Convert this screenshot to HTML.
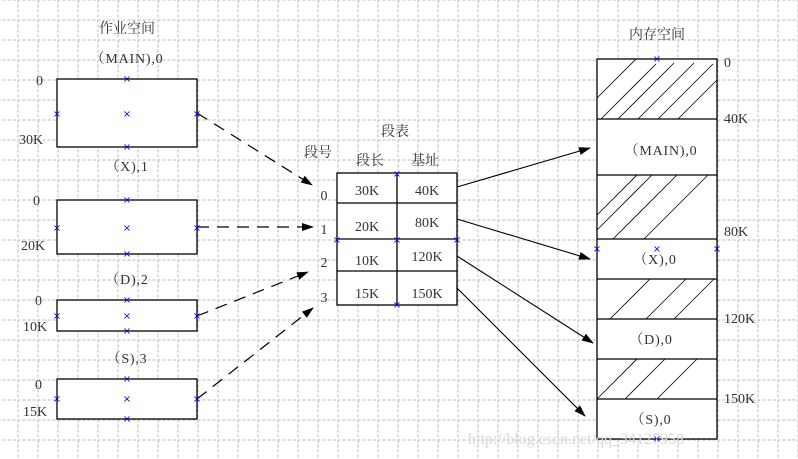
<!DOCTYPE html>
<html><head><meta charset="utf-8"><style>
html,body{margin:0;padding:0;background:#fff;}
svg{display:block;}
text{font-family:"Liberation Serif","Noto Serif CJK SC",serif;font-size:14px;fill:#333;}
.m{font-family:"DejaVu Sans",sans-serif;font-size:10px;fill:#00f;}
</style></head><body>
<svg width="798" height="459" xmlns="http://www.w3.org/2000/svg">
<defs>
<pattern id="g" x="17.5" y="19.5" width="20" height="20" patternUnits="userSpaceOnUse">
<path d="M0 0.5H20M0.5 0V20" stroke="#b8b8b8" stroke-width="1" stroke-dasharray="3,2" fill="none"/>
</pattern>
<marker id="a" markerWidth="12" markerHeight="8" refX="11" refY="4" orient="auto" markerUnits="userSpaceOnUse">
<path d="M0 0L12 4L0 8z" fill="#000"/>
</marker>
</defs>
<rect width="798" height="459" fill="url(#g)"/>

<g fill="#fff" stroke="#000" stroke-width="1.3">
<rect x="57" y="79" width="140" height="68"/>
<rect x="57" y="200" width="140" height="54"/>
<rect x="57" y="300" width="140" height="31"/>
<rect x="57" y="379" width="140" height="40"/>
<rect x="337" y="173" width="120" height="132"/>
<rect x="597" y="59" width="120" height="380"/>
</g>
<g stroke="#000" stroke-width="1.3">
<line x1="397" y1="173" x2="397" y2="305"/>
<line x1="337" y1="203" x2="457" y2="203"/>
<line x1="337" y1="239" x2="457" y2="239"/>
<line x1="337" y1="271" x2="457" y2="271"/>
<line x1="597" y1="119" x2="717" y2="119"/>
<line x1="597" y1="175" x2="717" y2="175"/>
<line x1="597" y1="239" x2="717" y2="239"/>
<line x1="597" y1="279" x2="717" y2="279"/>
<line x1="597" y1="319" x2="717" y2="319"/>
<line x1="597" y1="359" x2="717" y2="359"/>
<line x1="597" y1="399" x2="717" y2="399"/>
</g>
<g stroke="#000" stroke-width="0.8">
<line x1="597" y1="98" x2="636" y2="59"/>
<line x1="601" y1="119" x2="656" y2="64"/>
<line x1="618" y1="119" x2="674" y2="63"/>
<line x1="638" y1="119" x2="694" y2="63"/>
<line x1="658" y1="119" x2="713" y2="64"/>
<line x1="678" y1="119" x2="717" y2="80"/>
<line x1="597" y1="215" x2="637" y2="175"/>
<line x1="597" y1="230" x2="652" y2="175"/>
<line x1="613" y1="239" x2="677" y2="175"/>
<line x1="644" y1="239" x2="708" y2="175"/>
<line x1="610" y1="319" x2="650" y2="279"/>
<line x1="646" y1="319" x2="686" y2="279"/>
<line x1="674" y1="319" x2="714" y2="279"/>
<line x1="597" y1="399" x2="637" y2="359"/>
<line x1="625" y1="399" x2="665" y2="359"/>
<line x1="657" y1="399" x2="697" y2="359"/>
</g>
<g stroke="#000" stroke-width="1.2" stroke-dasharray="12,8" fill="none">
<line x1="197" y1="113" x2="312" y2="185" marker-end="url(#a)"/>
<line x1="197" y1="227" x2="313" y2="227" marker-end="url(#a)"/>
<line x1="197" y1="316" x2="308" y2="272" marker-end="url(#a)"/>
<line x1="197" y1="399" x2="313" y2="308" marker-end="url(#a)"/>
</g>
<g stroke="#000" stroke-width="1.1" fill="none">
<line x1="457" y1="187" x2="590" y2="148" marker-end="url(#a)"/>
<line x1="457" y1="219" x2="590" y2="259" marker-end="url(#a)"/>
<line x1="457" y1="256" x2="593" y2="343" marker-end="url(#a)"/>
<line x1="457" y1="288" x2="585" y2="416" marker-end="url(#a)"/>
</g>
<g text-anchor="middle">
<text class="m" x="127" y="82">×</text>
<text class="m" x="127" y="117">×</text>
<text class="m" x="127" y="150">×</text>
<text class="m" x="57" y="117">×</text>
<text class="m" x="197" y="117">×</text>
<text class="m" x="127" y="203">×</text>
<text class="m" x="127" y="257">×</text>
<text class="m" x="57" y="231">×</text>
<text class="m" x="127" y="231">×</text>
<text class="m" x="197" y="231">×</text>
<text class="m" x="127" y="303">×</text>
<text class="m" x="127" y="334">×</text>
<text class="m" x="57" y="319">×</text>
<text class="m" x="127" y="319">×</text>
<text class="m" x="197" y="319">×</text>
<text class="m" x="57" y="402">×</text>
<text class="m" x="127" y="402">×</text>
<text class="m" x="197" y="402">×</text>
<text class="m" x="127" y="382">×</text>
<text class="m" x="127" y="422">×</text>
<text class="m" x="337" y="243">×</text>
<text class="m" x="397" y="243">×</text>
<text class="m" x="457" y="243">×</text>
<text class="m" x="397" y="177">×</text>
<text class="m" x="397" y="308">×</text>
<text class="m" x="657" y="62">×</text>
<text class="m" x="597" y="252">×</text>
<text class="m" x="657" y="252">×</text>
<text class="m" x="717" y="252">×</text>
<text class="m" x="657" y="442">×</text>
</g>
<g text-anchor="middle">
<text x="127" y="33">作业空间</text>
<text x="127" y="63" letter-spacing="0.8">（MAIN),0</text>
<text x="127" y="171" letter-spacing="0.8">（X),1</text>
<text x="127" y="284" letter-spacing="0.8">（D),2</text>
<text x="127" y="363" letter-spacing="0.8">（S),3</text>
<text x="657" y="39">内存空间</text>
<text x="395" y="136">段表</text>
<text x="318" y="157">段号</text>
<text x="370" y="165">段长</text>
<text x="425" y="165">基址</text>
<text x="367" y="195">30K</text>
<text x="427" y="195">40K</text>
<text x="367" y="231">20K</text>
<text x="427" y="227">80K</text>
<text x="367" y="265">10K</text>
<text x="427" y="261">120K</text>
<text x="367" y="298">15K</text>
<text x="427" y="298">150K</text>
<text x="324" y="200">0</text>
<text x="324" y="234">1</text>
<text x="324" y="267">2</text>
<text x="324" y="302">3</text>
<text x="661" y="155" letter-spacing="0.8">（MAIN),0</text>
<text x="655" y="264" letter-spacing="0.8">（X),0</text>
<text x="651" y="344" letter-spacing="0.8">（D),0</text>
<text x="651" y="424" letter-spacing="0.8">（S),0</text>
</g>
<g>
<text x="36" y="85">0</text><text x="19" y="144">30K</text>
<text x="33" y="205">0</text><text x="21" y="250">20K</text>
<text x="35" y="305">0</text><text x="23" y="331">10K</text>
<text x="35" y="389">0</text><text x="23" y="416">15K</text>
<text x="724" y="67">0</text>
<text x="724" y="123">40K</text>
<text x="724" y="236">80K</text>
<text x="724" y="323">120K</text>
<text x="724" y="403">150K</text>
</g>
<text x="468" y="444" style="font-size:16px;fill:#d8d8d8">http://blog.csdn.net/qq_34127958</text>
</svg>
</body></html>
